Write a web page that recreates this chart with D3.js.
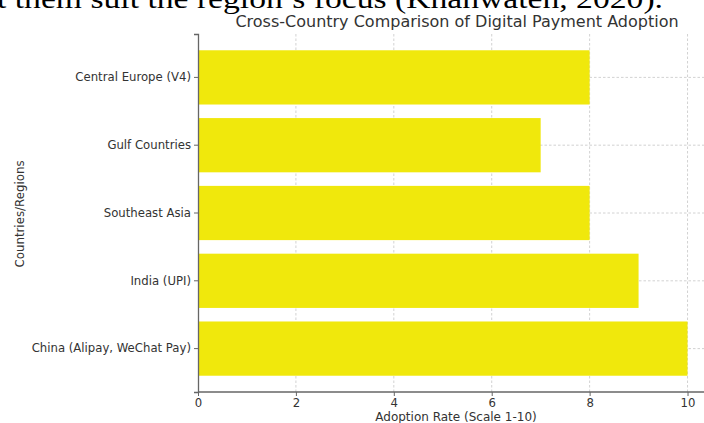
<!DOCTYPE html>
<html>
<head>
<meta charset="utf-8">
<script src="https://cdn.jsdelivr.net/npm/d3@7"></script>
<style>
  html, body { margin: 0; padding: 0; background: #fff; }
  svg { display: block; }
</style>
</head>
<body>
<svg id="chart" width="704" height="423"></svg>
<script>
// Digital payment adoption by region (top to bottom as drawn)
const regions = ["Central Europe (V4)", "Gulf Countries", "Southeast Asia", "India (UPI)", "China (Alipay, WeChat Pay)"];
const adoption = [8, 7, 8, 9, 10];
const xTicks = [0, 2, 4, 6, 8, 10];

(function draw() {
  const svg = d3.select("#chart");
  const W = 704;
  const plotL = 198, plotR = 712, plotT = 34, plotB = 392;
  const font = "'DejaVu Sans', sans-serif";

  // Running text of the surrounding document, cut at the top edge
  svg.append("text")
    .attr("x", -3).attr("y", 8)
    .attr("font-family", "'Liberation Serif', 'Times New Roman', serif")
    .attr("font-size", 27)
    .attr("fill", "#000")
    .attr("textLength", 666).attr("lengthAdjust", "spacingAndGlyphs")
    .text("t them suit the region\u2019s focus (Khanwaten, 2020).");

  const x = d3.scaleLinear().domain([0, 10.5]).range([plotL, plotR]);
  const y = d3.scaleBand().domain(regions).range([plotT, plotB])
    .paddingInner(0.2).paddingOuter(0.24);

  // Dashed grid behind the bars
  const grid = svg.append("g").attr("stroke", "#b0b0b0").attr("stroke-width", 0.8)
    .attr("stroke-dasharray", "2.5,2").attr("opacity", 0.7);
  grid.selectAll("line.v").data(xTicks.slice(1)).join("line").attr("class", "v")
    .attr("x1", d => x(d)).attr("x2", d => x(d)).attr("y1", plotT).attr("y2", plotB);
  grid.selectAll("line.h").data(regions).join("line").attr("class", "h")
    .attr("x1", plotL).attr("x2", W)
    .attr("y1", d => y(d) + y.bandwidth() / 2).attr("y2", d => y(d) + y.bandwidth() / 2);

  // Bars
  svg.append("g").selectAll("rect").data(regions).join("rect")
    .attr("x", x(0))
    .attr("y", d => y(d))
    .attr("width", (d, i) => x(adoption[i]) - x(0))
    .attr("height", y.bandwidth())
    .attr("fill", "#f0e80c");

  // Axes
  const xAxis = svg.append("g").attr("transform", `translate(0,${plotB})`)
    .call(d3.axisBottom(x).tickValues(xTicks).tickSize(4).tickPadding(3));
  const yAxis = svg.append("g").attr("transform", `translate(${plotL},0)`)
    .call(d3.axisLeft(y).tickSize(4).tickPadding(3));
  [xAxis, yAxis].forEach(a => {
    a.select(".domain").attr("stroke", "#666").attr("stroke-width", 1.3);
    a.selectAll(".tick line").attr("stroke", "#666");
    a.selectAll(".tick text").attr("font-family", font).attr("font-size", 11.7).attr("fill", "#333");
  });
  xAxis.select(".domain").attr("d", `M${plotL},0H${W}`);

  // Title and axis labels
  svg.append("text").attr("x", 457).attr("y", 27).attr("text-anchor", "middle")
    .attr("font-family", font).attr("font-size", 16).attr("fill", "#333")
    .text("Cross-Country Comparison of Digital Payment Adoption");
  svg.append("text").attr("x", 456).attr("y", 421).attr("text-anchor", "middle")
    .attr("font-family", font).attr("font-size", 12).attr("fill", "#333")
    .text("Adoption Rate (Scale 1-10)");
  svg.append("text").attr("transform", "translate(24,214) rotate(-90)").attr("text-anchor", "middle")
    .attr("font-family", font).attr("font-size", 11.8).attr("fill", "#333")
    .text("Countries/Regions");
})();
</script>
</body>
</html>
